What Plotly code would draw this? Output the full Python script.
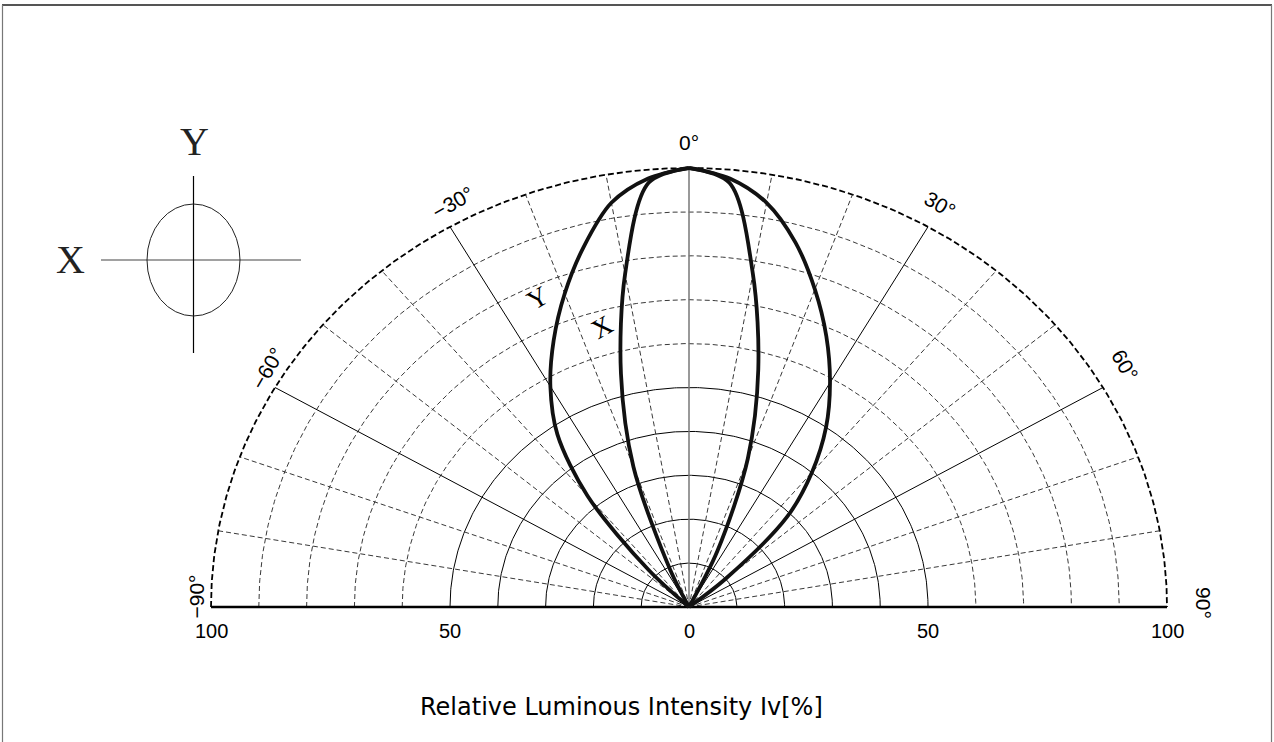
import numpy as np
import plotly.graph_objects as go

# ---------------- data ----------------
angles_deg = [-90, -85, -80, -75, -70, -65, -60, -55, -50, -45, -40, -35, -30, -25, -20, -15, -10, -5,
              0, 5, 10, 15, 20, 25, 30, 35, 40, 45, 50, 55, 60, 65, 70, 75, 80, 85, 90]
intensity_Y = [0, 0, 0, 0, 0, 0, 0, 0, 0, 12, 33, 48, 58, 67, 76, 85, 93.5, 98,
               100, 98, 93.5, 86, 77, 68, 59, 50, 40, 29, 10, 0, 0, 0, 0, 0, 0, 0, 0]
intensity_X = [0, 0, 0, 0, 0, 0, 0, 0, 0, 0, 0, 0, 0, 9, 34, 55, 77, 97,
               100, 97, 77, 56, 36, 14, 0, 0, 0, 0, 0, 0, 0, 0, 0, 0, 0, 0, 0]
ring_values = [10, 20, 30, 40, 50, 60, 70, 80, 90, 100]
spoke_angles = [-80, -70, -60, -50, -40, -30, -20, -10, 0, 10, 20, 30, 40, 50, 60, 70, 80]
tick_values = [-100, -50, 0, 50, 100]
tick_labels = ["100", "50", "0", "50", "100"]
angle_label_values = [-90, -60, -30, 0, 30, 60, 90]
angle_label_texts = ["\u221290\u00b0", "\u221260\u00b0", "\u221230\u00b0", "0\u00b0", "30\u00b0", "60\u00b0", "90\u00b0"]

# ---------------- geometry ----------------
W, H = 1274, 742
CX, CY = 689, 607          # pixel position of the pole
SX, SY = 4.78, 4.39        # pixels per unit horizontally / vertically
# where each angle label sits (polar angle, radius) around the outer ring
label_places = {-90: (-88.7, 103), -60: (-58.4, 103.5), -30: (-28.2, 104.5), 0: (0, 105.7),
                30: (29.8, 105.6), 60: (58.9, 106.6), 90: (89.5, 107.5)}

def pol(r, a_deg):
    a = np.radians(np.asarray(a_deg, dtype=float))
    r = np.asarray(r, dtype=float)
    return r * np.sin(a), r * np.cos(a)

def pxp(x):
    return x / W

def pyp(y):
    return 1 - y / H

fig = go.Figure()

# rings
arc = np.linspace(-90, 90, 361)
for rv in ring_values:
    xs, ys = pol(np.full_like(arc, rv), arc)
    if rv == 100:
        line = dict(color="black", width=1.8, dash="6px,3px")
    elif rv > 50:
        line = dict(color="#222", width=0.9, dash="5px,3px")
    else:
        line = dict(color="black", width=1)
    fig.add_trace(go.Scatter(x=xs, y=ys, mode="lines", line=line, hoverinfo="skip", showlegend=False))

# spokes
for a in spoke_angles:
    xs, ys = pol([0, 100], [a, a])
    if a == 0:
        line = dict(color="#777", width=1.5)
    elif a % 30 == 0:
        line = dict(color="black", width=1)
    else:
        line = dict(color="#222", width=0.9, dash="5px,3px")
    fig.add_trace(go.Scatter(x=xs, y=ys, mode="lines", line=line, hoverinfo="skip", showlegend=False))

# baseline (+-90 deg)
bx, by = pol([100, 100], [-90, 90])
fig.add_trace(go.Scatter(x=bx, y=by, mode="lines", line=dict(color="black", width=2.5),
                         hoverinfo="skip", showlegend=False))

# curves: each half drawn smooth, meeting in a cusp at 0 deg
ang = np.asarray(angles_deg, dtype=float)
for vals in (intensity_Y, intensity_X):
    v = np.asarray(vals, dtype=float)
    for side in (ang <= 0, ang >= 0):
        a_s, v_s = ang[side], v[side]
        nz = np.nonzero(v_s > 0)[0]
        lo, hi = max(nz.min() - 1, 0), min(nz.max() + 1, len(v_s) - 1)
        xs, ys = pol(v_s[lo:hi + 1], a_s[lo:hi + 1])
        fig.add_trace(go.Scatter(x=xs, y=ys, mode="lines",
                                 line=dict(color="#111", width=3.8, shape="spline", smoothing=0.9),
                                 hoverinfo="skip", showlegend=False))

annotations = []
# tick labels along baseline
for v, t in zip(tick_values, tick_labels):
    annotations.append(dict(x=v, y=-5.5, text=t, showarrow=False, xanchor="center", yanchor="middle",
                            font=dict(family="Liberation Sans, Arial", size=20, color="black")))
# angle labels
for a, t in zip(angle_label_values, angle_label_texts):
    pa, pr = label_places[a]
    lx, ly = pol(pr, pa)
    annotations.append(dict(x=float(lx), y=float(ly), text=t, showarrow=False, textangle=a,
                            xanchor="center", yanchor="middle",
                            font=dict(family="Liberation Sans, Arial", size=21, color="black")))
# curve labels
annotations.append(dict(x=-31.6, y=70.4, text="Y", showarrow=False, textangle=-30,
                        font=dict(family="Liberation Serif, Times New Roman", size=27, color="black")))
annotations.append(dict(x=-18.2, y=63.8, text="X", showarrow=False, textangle=-30,
                        font=dict(family="Liberation Serif, Times New Roman", size=27, color="black")))
# axis title
annotations.append(dict(xref="paper", yref="paper", x=pxp(621), y=pyp(707), text="Relative Luminous Intensity Iv[%]",
                        showarrow=False, xanchor="center", yanchor="middle",
                        font=dict(family="DejaVu Sans", size=24, color="black")))
# legend icon labels
annotations.append(dict(xref="paper", yref="paper", x=pxp(194), y=pyp(141), text="Y", showarrow=False,
                        xanchor="center", yanchor="middle",
                        font=dict(family="Liberation Serif, Times New Roman", size=40, color="#222")))
annotations.append(dict(xref="paper", yref="paper", x=pxp(70), y=pyp(259), text="X", showarrow=False,
                        xanchor="center", yanchor="middle",
                        font=dict(family="Liberation Serif, Times New Roman", size=40, color="#222")))

shapes = [
    # frame
    dict(type="line", xref="paper", yref="paper", x0=pxp(2), x1=pxp(1272), y0=pyp(5), y1=pyp(5),
         line=dict(color="#555", width=2)),
    dict(type="line", xref="paper", yref="paper", x0=pxp(2.5), x1=pxp(2.5), y0=pyp(5), y1=pyp(745),
         line=dict(color="#777", width=1.2)),
    dict(type="line", xref="paper", yref="paper", x0=pxp(1271.5), x1=pxp(1271.5), y0=pyp(5), y1=pyp(745),
         line=dict(color="#777", width=1.2)),
    # legend icon
    dict(type="line", xref="paper", yref="paper", x0=pxp(101), x1=pxp(301), y0=pyp(260), y1=pyp(260),
         line=dict(color="#444", width=1.2)),
    dict(type="line", xref="paper", yref="paper", x0=pxp(193.5), x1=pxp(193.5), y0=pyp(176), y1=pyp(353),
         line=dict(color="black", width=1.2)),
    dict(type="circle", xref="paper", yref="paper", x0=pxp(147), x1=pxp(240), y0=pyp(204), y1=pyp(316),
         line=dict(color="#222", width=1)),
]

fig.update_layout(
    width=W, height=H,
    margin=dict(l=0, r=0, t=0, b=0),
    paper_bgcolor="white", plot_bgcolor="white",
    xaxis=dict(range=[-CX / SX, (W - CX) / SX], visible=False, domain=[0, 1], fixedrange=True),
    yaxis=dict(range=[-(H - CY) / SY, CY / SY], visible=False, domain=[0, 1], fixedrange=True),
    annotations=annotations,
    shapes=shapes,
    showlegend=False,
)

fig.write_html("out.html", config={"displayModeBar": False},
               post_script="document.body.style.margin='0';document.body.style.overflow='hidden';")
